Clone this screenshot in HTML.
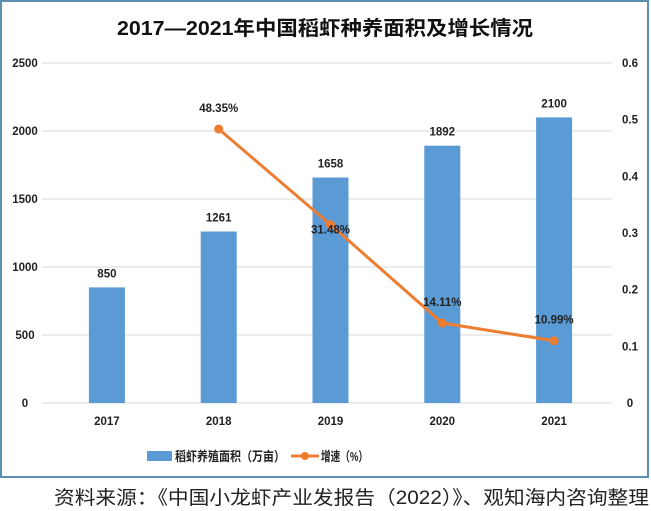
<!DOCTYPE html>
<html><head><meta charset="utf-8"><style>
body{margin:0;background:#fff;}
svg{display:block;font-family:"Liberation Sans","Noto Sans CJK SC",sans-serif;}
</style></head><body>
<svg id="c" width="651" height="511">
<rect x="1" y="1" width="647" height="476" fill="#fff" stroke="#5b8fb0" stroke-width="2"/>
<text x="117" y="35" textLength="416" lengthAdjust="spacingAndGlyphs" font-size="20" font-weight="bold" fill="#111">2017—2021年中国稻虾种养面积及增长情况</text>
<g id="grid"></g><g id="bars"></g><g id="line"></g><g id="axes"></g>
<g>
<rect x="147" y="451" width="25" height="10" fill="#5b9bd5"/>
<text x="175" y="461" textLength="110" lengthAdjust="spacingAndGlyphs" font-size="13" font-weight="bold" fill="#222">稻虾养殖面积（万亩）</text>
<line x1="291" y1="456" x2="319" y2="456" stroke="#ed7d31" stroke-width="3"/>
<circle cx="305" cy="456" r="4" fill="#ed7d31"/>
<text x="321" y="461" textLength="47" lengthAdjust="spacingAndGlyphs" font-size="13" font-weight="bold" fill="#222">增速（%）</text>
</g>
<text x="54" y="504" textLength="595" lengthAdjust="spacingAndGlyphs" font-size="19" fill="#222">资料来源：《中国小龙虾产业发报告（2022）》、观知海内咨询整理</text>
</svg>
<script>
const categories=["2017","2018","2019","2020","2021"];
const areaValues=[850,1261,1658,1892,2100];
const growthValues=[null,0.4835,0.3148,0.1411,0.1099];
const growthLabels=["","48.35%","31.48%","14.11%","10.99%"];
const leftTicks=[0,500,1000,1500,2000,2500];
const rightTicks=[0,0.1,0.2,0.3,0.4,0.5,0.6];
const NS="http://www.w3.org/2000/svg";
const x0=51,x1=610,yb=403,yt=63;
const band=(x1-x0)/categories.length;
const xc=i=>x0+band*(i+0.5);
const yL=v=>yb-(v/2500)*(yb-yt);
const yR=v=>yb-(v/0.6)*(yb-yt);
function mk(p,tag,a){const e=document.createElementNS(NS,tag);for(const k in a)e.setAttribute(k,a[k]);p.appendChild(e);return e;}
const G=document.getElementById('grid'),B=document.getElementById('bars'),L=document.getElementById('line'),A=document.getElementById('axes');
leftTicks.forEach(t=>{
 const l=mk(G,'line',{x1:42,x2:612,y1:yL(t),y2:yL(t),stroke:'#d9d9d9','stroke-width':1});
 
 
 const tx=mk(A,'text',{x:25,y:yL(t)+4,'text-anchor':'middle','font-size':11.5,'font-weight':'bold',fill:'#222'});tx.textContent=t;
 
 
});
rightTicks.forEach(t=>{
 const tx=mk(A,'text',{x:630,y:yR(t)+4,'text-anchor':'middle','font-size':11.5,'font-weight':'bold',fill:'#222'});tx.textContent=t;
 
 
});
categories.forEach((c,i)=>{
 const tx=mk(A,'text',{x:xc(i),y:425,'text-anchor':'middle','font-size':11.5,'font-weight':'bold',fill:'#222'});tx.textContent=c;
 
 
 const r=mk(B,'rect',{x:xc(i)-18,y:yL(areaValues[i]),width:36,height:yb-yL(areaValues[i]),fill:'#5b9bd5'});
 
 
 const bl=mk(B,'text',{x:xc(i),y:yL(areaValues[i])-10,'text-anchor':'middle','font-size':11.5,'font-weight':'bold',fill:'#222'});bl.textContent=areaValues[i];
 
 
});
let pts=[];growthValues.forEach((v,i)=>{if(v!==null)pts.push([xc(i),yR(v),i]);});
const pl=mk(L,'polyline',{points:pts.map(p=>p[0]+','+p[1]).join(' '),fill:'none',stroke:'#ed7d31','stroke-width':3});


pts.forEach(p=>{
 const c=mk(L,'circle',{cx:p[0],cy:p[1],r:4.5,fill:'#ed7d31'});
 
 
 const t=mk(L,'text',{x:p[0],y:p[2]===2?p[1]+9:p[1]-17,'text-anchor':'middle','font-size':11.5,'font-weight':'bold',fill:'#222'});t.textContent=growthLabels[p[2]];
 
 
});
</script>
</body></html>
